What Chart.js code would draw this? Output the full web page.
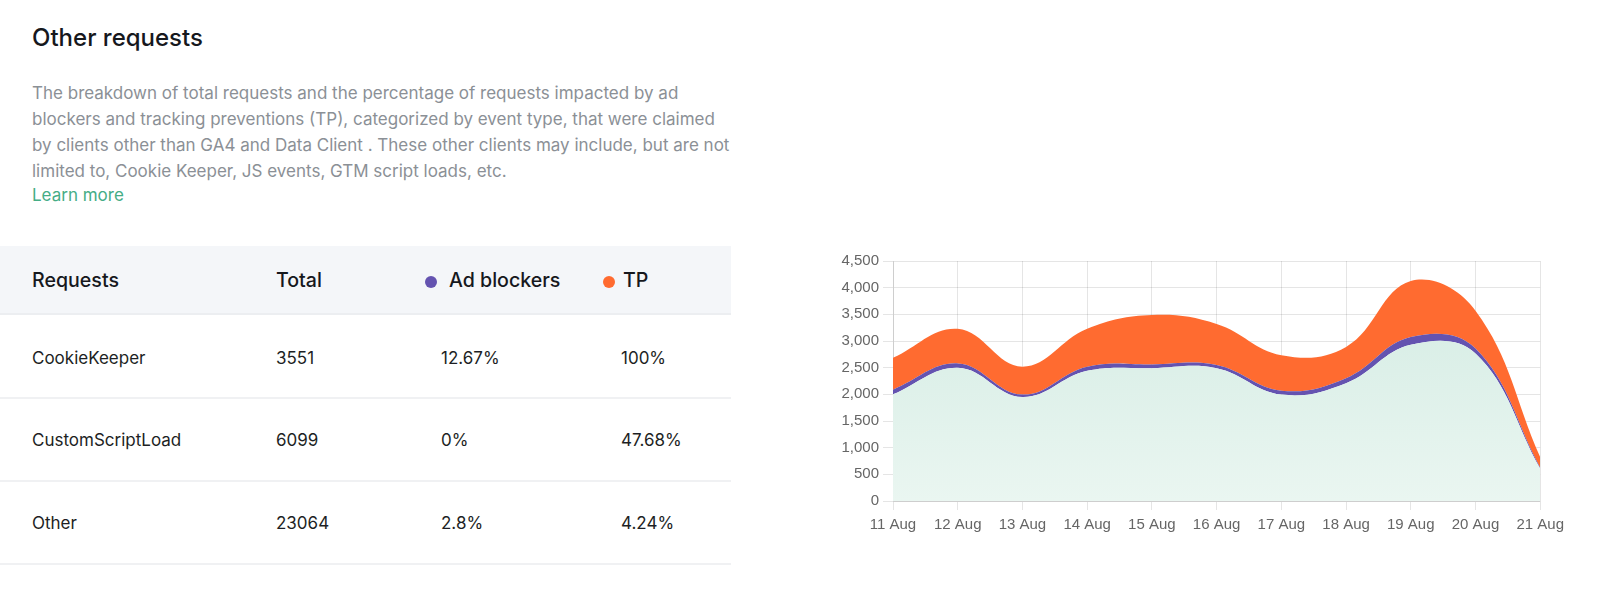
<!DOCTYPE html>
<html>
<head>
<meta charset="utf-8">
<script src="https://cdn.jsdelivr.net/npm/chart.js@4.4.0/dist/chart.umd.min.js"></script>
<style>
  body { margin: 0; background: #fff; font-family: Inter, "Noto Sans", sans-serif; }
  .page { position: relative; width: 1600px; height: 598px; overflow: hidden; }
  .title { position: absolute; left: 32px; top: 23px; font-size: 24px; font-weight: 500; color: #16181d; }
  .desc { position: absolute; left: 32px; top: 80px; font-size: 17px; line-height: 26px; color: #8b9096; }
  .learn { color: #45ad86; position: relative; top: -2px; }
  .thead { position: absolute; left: 0; top: 246px; width: 731px; height: 67px; background: #f4f6f9; border-bottom: 2px solid #eceef1; }
  .th { position: absolute; top: 268px; font-size: 19.6px; font-weight: 500; color: #16181d; }
  .dot { position: absolute; width: 12px; height: 12px; border-radius: 6px; top: 276px; }
  .row { position: absolute; left: 0; width: 731px; height: 2px; background: #f0f1f3; }
  .td { position: absolute; font-size: 17px; color: #1d1f24; }
  .chartbox { position: absolute; left: 823px; top: 245px; width: 747px; height: 295px; }
</style>
</head>
<body>
<div class="page">
  <div class="title">Other requests</div>
  <div class="desc">
    The breakdown of total requests and the percentage of requests impacted by ad<br>
    blockers and tracking preventions (TP), categorized by event type, that were claimed<br>
    by clients other than GA4 and Data Client . These other clients may include, but are not<br>
    limited to, Cookie Keeper, JS events, GTM script loads, etc.<br>
    <span class="learn">Learn more</span>
  </div>

  <div class="thead"></div>
  <div class="th" style="left:32px">Requests</div>
  <div class="th" style="left:276px">Total</div>
  <div class="dot" style="left:425px;background:#6453b0"></div>
  <div class="th" style="left:449px">Ad blockers</div>
  <div class="dot" style="left:603px;background:#ff6b30"></div>
  <div class="th" style="left:623px">TP</div>
  <div id="rows"></div>

  <div class="chartbox"><canvas id="areaChart"></canvas></div>
</div>
<script>
// table
const requestNames = ['CookieKeeper', 'CustomScriptLoad', 'Other'];
const requestTotals = ['3551', '6099', '23064'];
const adBlockPct = ['12.67%', '0%', '2.8%'];
const tpPct = ['100%', '47.68%', '4.24%'];

// chart
const days = ['11 Aug', '12 Aug', '13 Aug', '14 Aug', '15 Aug', '16 Aug', '17 Aug', '18 Aug', '19 Aug', '20 Aug', '21 Aug'];
const allowedRequests = [2000, 2500, 1950, 2440, 2490, 2490, 1995, 2210, 2930, 2765, 605];
const adBlockedRequests = [87, 80, 45, 79, 71, 59, 73, 92, 144, 93, 19];
const tpRequests = [598, 648, 524, 709, 926, 771, 667, 587, 1050, 710, 197];

let rowsHtml = '';
const rowTops = [359, 441, 524];
const lineTops = [397, 480, 563];
for (let i = 0; i < requestNames.length; i++) {
    let y = rowTops[i] - 11;
    rowsHtml += '<div class="td" style="left:32px;top:' + y + 'px">' + requestNames[i] + '</div>';
    rowsHtml += '<div class="td" style="left:276px;top:' + y + 'px">' + requestTotals[i] + '</div>';
    rowsHtml += '<div class="td" style="left:441px;top:' + y + 'px">' + adBlockPct[i] + '</div>';
    rowsHtml += '<div class="td" style="left:621px;top:' + y + 'px">' + tpPct[i] + '</div>';
    rowsHtml += '<div class="row" style="top:' + lineTops[i] + 'px"></div>';
}
document.getElementById('rows').innerHTML = rowsHtml;

function greenFill(context) {
    const area = context.chart.chartArea;
    if (!area) return 'rgba(213,237,228,1)';
    const g = context.chart.ctx.createLinearGradient(0, area.top, 0, area.bottom);
    g.addColorStop(0, '#d2ebe2');
    g.addColorStop(1, '#eaf6f1');
    return g;
}

let ctx = document.getElementById('areaChart').getContext('2d');

let myChart = new Chart(ctx, {
    type: 'line',
    data: {
        labels: days,
        datasets: [{
            label: 'Allowed',
            data: allowedRequests,
            backgroundColor: greenFill,
            borderWidth: 0,
            fill: 'origin',
            tension: 0.4,
            pointRadius: 0,
        }, {
            label: 'Ad blockers',
            data: adBlockedRequests,
            backgroundColor: '#6453b0',
            borderWidth: 0,
            fill: '-1',
            tension: 0.4,
            pointRadius: 0,
        }, {
            label: 'TP',
            data: tpRequests,
            backgroundColor: '#ff6b30',
            borderWidth: 0,
            fill: '-1',
            tension: 0.4,
            pointRadius: 0,
        }]
    },
    options: {
        responsive: true,
        maintainAspectRatio: false,
        animation: false,
        layout: { padding: { top: 16, right: 8 } },
        plugins: {
            legend: { display: false },
            tooltip: { enabled: false },
        },
        scales: {
            x: {
                grid: { tickLength: 9 },
                ticks: { color: '#666', font: { size: 15 }, maxRotation: 0, padding: 6 },
            },
            y: {
                stacked: true,
                min: 0,
                max: 4500,
                grid: { tickLength: 10 },
                ticks: { stepSize: 500, color: '#666', font: { size: 15 }, padding: 4 },
                afterFit: (scale) => { scale.width = 70; },
            }
        }
    }
});
</script>
</body>
</html>
